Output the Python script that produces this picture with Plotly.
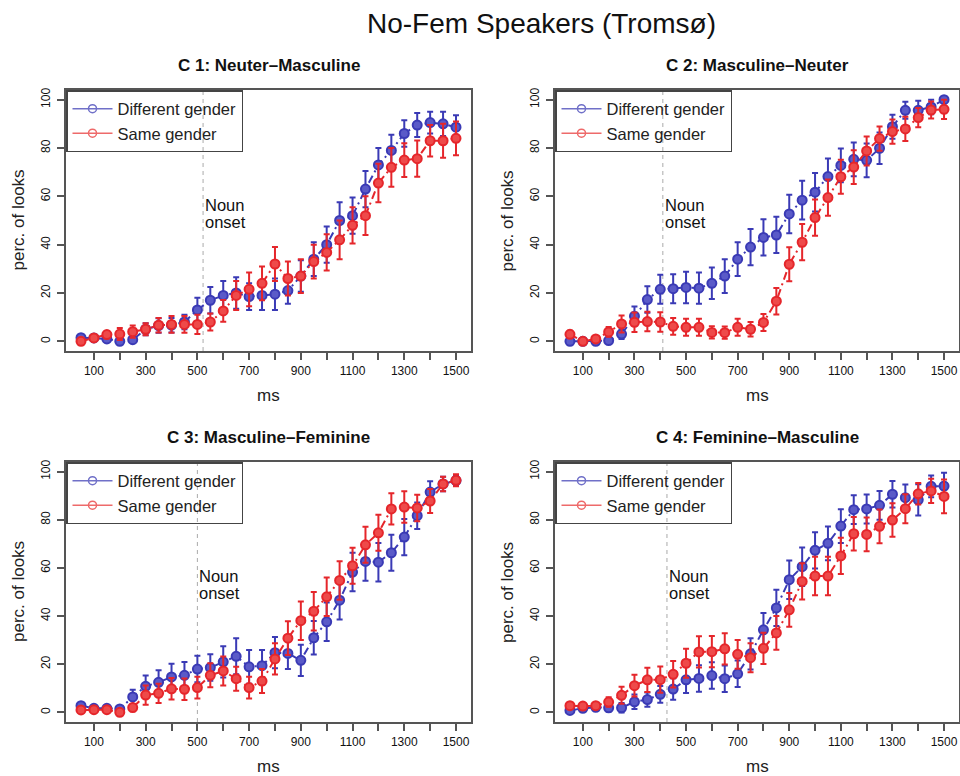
import plotly.graph_objects as go

ms = list(range(50, 1501, 50))

panel_titles = ["C 1: Neuter\u2013Masculine", "C 2: Masculine\u2013Neuter",
                "C 3: Masculine\u2013Feminine", "C 4: Feminine\u2013Masculine"]
noun_onset = [522, 410, 500, 426]

# C1
c1_diff = [1.5, 1.4, 1.0, 0.0, 0.7, 5.0, 6.5, 6.7, 8.0, 13.0, 17.0, 19.0, 20.0, 18.5, 19.0,
           19.5, 21.0, 27.0, 34.0, 40.0, 50.0, 52.0, 63.0, 73.0, 79.0, 86.0, 89.5, 90.5, 90.0, 88.6]
c1_diff_err = [0.5, 0.8, 0.8, 0.0, 0.5, 2.5, 3.0, 3.0, 3.0, 5.0, 5.5, 6.0, 6.5, 5.5, 6.0,
               6.5, 5.5, 6.5, 7.0, 7.5, 7.5, 7.5, 7.5, 7.0, 6.5, 5.5, 5.0, 4.5, 5.0, 5.0]
c1_same = [0.0, 1.4, 2.8, 3.0, 4.0, 5.0, 6.7, 7.0, 7.0, 7.0, 8.0, 12.6, 19.0, 21.5, 24.0,
           32.0, 26.0, 27.0, 33.0, 36.8, 42.0, 48.0, 52.0, 65.5, 72.0, 75.0, 75.6, 83.0, 83.0, 84.0]
c1_same_err = [0.5, 1.0, 1.5, 2.5, 2.5, 2.5, 3.0, 3.5, 3.5, 4.0, 3.5, 4.5, 6.0, 7.0, 7.0,
               7.0, 7.0, 7.0, 7.0, 7.5, 8.0, 7.5, 8.0, 8.0, 8.0, 7.0, 7.5, 6.5, 7.0, 7.0]
# C2
c2_diff = [0.0, 0.0, 0.0, 0.3, 3.0, 10.4, 17.3, 21.5, 21.8, 22.3, 22.0, 24.0, 27.0, 34.0, 39.0,
           43.0, 44.0, 52.7, 58.4, 61.7, 68.2, 72.8, 75.3, 74.9, 79.9, 88.8, 95.6, 95.6, 97.0, 100.0]
c2_diff_err = [0.0, 0.0, 0.0, 0.5, 2.0, 4.0, 5.5, 6.0, 6.0, 6.5, 6.5, 6.5, 7.0, 7.0, 7.5,
               7.5, 7.5, 8.0, 8.0, 8.0, 7.5, 7.0, 7.0, 7.0, 6.5, 5.0, 3.5, 4.0, 3.0, 0.5]
c2_same = [2.9, 0.0, 1.0, 3.9, 7.2, 7.9, 8.2, 8.0, 6.2, 5.8, 5.8, 3.7, 3.6, 5.8, 5.0,
           7.8, 16.6, 31.9, 41.0, 51.2, 59.5, 68.1, 72.1, 78.8, 83.9, 86.8, 87.9, 92.6, 95.7, 96.0]
c2_same_err = [1.5, 0.5, 1.0, 2.0, 3.5, 4.0, 4.0, 4.0, 3.5, 3.5, 3.5, 2.5, 2.5, 3.5, 3.0,
               3.5, 5.5, 7.0, 7.5, 7.5, 7.5, 7.0, 7.0, 6.0, 5.0, 5.0, 5.0, 4.0, 3.5, 4.0]
# C3
c3_diff = [2.8, 1.7, 1.7, 1.4, 6.4, 10.8, 12.5, 14.7, 15.4, 18.0, 18.6, 21.0, 23.3, 18.9, 19.4,
           24.8, 24.5, 21.6, 31.0, 37.6, 46.6, 58.3, 62.7, 62.4, 66.3, 72.8, 81.7, 91.5, 94.9, 96.3]
c3_diff_err = [1.0, 0.8, 0.8, 1.0, 3.0, 4.5, 5.0, 5.5, 5.5, 5.5, 5.5, 6.5, 7.5, 7.0, 6.5,
               6.5, 6.5, 6.5, 7.0, 8.0, 8.0, 8.0, 8.0, 8.0, 7.5, 7.5, 5.5, 4.5, 3.0, 2.0]
c3_same = [1.0, 1.1, 1.1, 0.0, 2.0, 7.2, 7.9, 9.8, 9.6, 10.3, 15.4, 17.2, 14.0, 10.3, 13.0,
           22.2, 30.8, 38.1, 42.0, 48.0, 54.8, 60.9, 69.6, 74.6, 84.5, 85.3, 84.9, 87.8, 94.9, 96.4]
c3_same_err = [0.8, 1.0, 1.0, 0.5, 1.5, 4.0, 4.0, 4.5, 4.5, 4.5, 5.0, 6.0, 5.0, 4.5, 5.0,
               6.5, 7.0, 8.0, 8.0, 8.0, 8.0, 7.5, 7.5, 7.5, 6.5, 6.5, 5.5, 5.0, 3.0, 2.5]
# C4
c4_diff = [0.8, 1.7, 2.1, 1.9, 1.9, 4.4, 5.3, 7.5, 9.7, 13.5, 14.1, 15.3, 14.0, 16.0, 24.3,
           34.3, 43.4, 55.1, 60.5, 67.3, 70.2, 77.4, 84.2, 84.5, 86.0, 90.6, 89.2, 88.3, 93.9, 94.0]
c4_diff_err = [0.5, 1.0, 1.0, 1.5, 2.0, 3.0, 3.0, 3.5, 4.5, 5.5, 5.5, 5.5, 5.5, 5.5, 6.5,
               7.0, 7.5, 8.0, 8.0, 7.5, 7.0, 7.0, 6.0, 6.0, 6.0, 5.5, 5.5, 6.5, 4.5, 5.5]
c4_same = [2.8, 2.6, 2.8, 4.3, 7.1, 11.1, 13.5, 13.6, 15.8, 20.4, 25.1, 25.2, 26.4, 24.1, 22.7,
           26.6, 33.0, 42.6, 54.4, 56.6, 56.6, 65.0, 74.2, 73.9, 77.3, 79.9, 84.6, 90.8, 92.0, 89.7]
c4_same_err = [1.0, 1.0, 1.0, 2.0, 3.5, 4.5, 5.0, 5.5, 5.5, 6.0, 6.5, 6.5, 6.5, 6.0, 6.0,
               6.5, 7.0, 7.0, 7.5, 8.0, 8.0, 7.5, 7.0, 7.0, 7.0, 7.0, 6.0, 4.5, 5.0, 7.0]

diff_series = [c1_diff, c2_diff, c3_diff, c4_diff]
diff_errors = [c1_diff_err, c2_diff_err, c3_diff_err, c4_diff_err]
same_series = [c1_same, c2_same, c3_same, c4_same]
same_errors = [c1_same_err, c2_same_err, c3_same_err, c4_same_err]

x_tickvals = list(range(100, 1501, 100))
x_ticktext = ["100", "", "300", "", "500", "", "700", "", "900", "", "1100", "", "1300", "", "1500"]
y_tickvals = [0, 20, 40, 60, 80, 100]
y_ticktext = ["0", "20", "40", "60", "80", "100"]

BLUE = "#3A3AB5"
RED = "#E5262B"
BLUE_L = "#7070C8"
RED_L = "#EE6A6A"
FONT = "Liberation Sans, Arial, Helvetica, sans-serif"

W, H = 960, 776
# pixel boxes in window coordinates: (left, right, top, bottom)
boxes = [(66, 471, 90, 351), (555, 959, 90, 351), (66, 471, 462, 722), (555, 959, 462, 722)]


def px(xw):
    return xw / W


def py(yw):
    return 1 - yw / H


fig = go.Figure()
legend_names = ["legend", "legend2", "legend3", "legend4"]

for i in range(4):
    xa = "x" if i == 0 else f"x{i+1}"
    ya = "y" if i == 0 else f"y{i+1}"
    lg = legend_names[i]
    fig.add_trace(go.Scatter(
        x=ms, y=diff_series[i], xaxis=xa, yaxis=ya, mode="lines+markers",
        line=dict(color=BLUE, width=2, dash="8px,4px,2px,4px"),
        marker=dict(symbol="circle", size=9, color="#5A5AC8", line=dict(color=BLUE, width=2)),
        error_y=dict(type="data", array=diff_errors[i], color=BLUE, thickness=2, width=3),
        showlegend=False, legend=lg))
    fig.add_trace(go.Scatter(
        x=ms, y=same_series[i], xaxis=xa, yaxis=ya, mode="lines+markers",
        line=dict(color=RED, width=2, dash="8px,4px,2px,4px"),
        marker=dict(symbol="circle", size=9, color="#EE4A4A", line=dict(color=RED, width=2)),
        error_y=dict(type="data", array=same_errors[i], color=RED, thickness=2, width=3),
        showlegend=False, legend=lg))
    # legend-only entries
    fig.add_trace(go.Scatter(
        x=[None], y=[None], xaxis=xa, yaxis=ya, mode="lines+markers", name="Different gender",
        line=dict(color=BLUE_L, width=1.5), marker=dict(symbol="circle-open", size=8, color=BLUE_L, line=dict(width=1.5)),
        showlegend=True, legend=lg))
    fig.add_trace(go.Scatter(
        x=[None], y=[None], xaxis=xa, yaxis=ya, mode="lines+markers", name="Same gender",
        line=dict(color=RED_L, width=1.5), marker=dict(symbol="circle-open", size=8, color=RED_L, line=dict(width=1.5)),
        showlegend=True, legend=lg))

layout = dict(
    width=W, height=H, autosize=False,
    margin=dict(l=0, r=0, t=0, b=0, autoexpand=False),
    paper_bgcolor="white", plot_bgcolor="white",
    font=dict(family=FONT, color="#222"),
)

annotations = []
shapes = []
for i in range(4):
    l, r, t, b = boxes[i]
    suffix = "" if i == 0 else str(i + 1)
    xd = [px(l), min(px(r), 1.0)]
    yd = [py(b), py(t)]
    axis_common = dict(showline=True, linecolor="#555", linewidth=1.5, mirror=True,
                       ticks="outside", ticklen=7, tickwidth=1.5, tickcolor="#555",
                       showgrid=False, zeroline=False,
                       tickfont=dict(family=FONT, size=12, color="#111"))
    layout["xaxis" + suffix] = dict(domain=xd, range=[-8, 1558], anchor="y" + suffix,
                                    tickmode="array", tickvals=x_tickvals, ticktext=x_ticktext,
                                    ticklabelstandoff=1, **axis_common)
    layout["yaxis" + suffix] = dict(domain=yd, range=[-4, 104], anchor="x" + suffix,
                                    tickmode="array", tickvals=y_tickvals, ticktext=y_ticktext,
                                    tickangle=-90, ticklabelstandoff=2, **axis_common)
    layout[legend_names[i]] = dict(x=px(l), y=py(t), xanchor="left", yanchor="top",
                                   xref="paper", yref="paper",
                                   bgcolor="rgba(0,0,0,0)", bordercolor="#444", borderwidth=1.5,
                                   font=dict(family=FONT, size=16.5, color="#222"),
                                   tracegroupgap=0, itemwidth=40)
    # subplot title
    annotations.append(dict(text="<b>" + panel_titles[i] + "</b>", x=px((l + r) / 2), y=py(t - 25),
                            xref="paper", yref="paper", showarrow=False, xanchor="center", yanchor="middle",
                            font=dict(family=FONT, size=17, color="#111")))
    # axis titles
    annotations.append(dict(text="ms", x=px((l + r) / 2), y=py(b + 44),
                            xref="paper", yref="paper", showarrow=False, xanchor="center", yanchor="middle",
                            font=dict(family=FONT, size=17, color="#222")))
    annotations.append(dict(text="perc. of looks", x=px(l - 48), y=py((t + b) / 2),
                            xref="paper", yref="paper", showarrow=False, xanchor="center", yanchor="middle",
                            textangle=-90, font=dict(family=FONT, size=17, color="#222")))
    # noun onset
    xa = "x" if i == 0 else f"x{i+1}"
    ya = "y" if i == 0 else f"y{i+1}"
    shapes.append(dict(type="line", xref=xa, yref=ya + " domain", x0=noun_onset[i], x1=noun_onset[i],
                       y0=0, y1=1, layer="below", line=dict(color="#AAAAAA", width=1, dash="4px,4px")))
    annotations.append(dict(text="Noun", x=noun_onset[i], y=56.6, xref=xa, yref=ya,
                            showarrow=False, xanchor="left", yanchor="middle", align="left",
                            font=dict(family=FONT, size=16.5, color="#111")))
    annotations.append(dict(text="onset", x=noun_onset[i], y=49.5, xref=xa, yref=ya,
                            showarrow=False, xanchor="left", yanchor="middle", align="left",
                            font=dict(family=FONT, size=16.5, color="#111")))

annotations.append(dict(text="No-Fem Speakers (Troms\u00f8)", x=px(541), y=py(23),
                        xref="paper", yref="paper", showarrow=False, xanchor="center", yanchor="middle",
                        font=dict(family=FONT, size=28, color="#111")))

layout["annotations"] = annotations
layout["shapes"] = shapes
fig.update_layout(**layout)

fig.write_html("out.html", config={"displayModeBar": False},
               post_script="document.body.style.margin='0';document.body.style.overflow='hidden';")
